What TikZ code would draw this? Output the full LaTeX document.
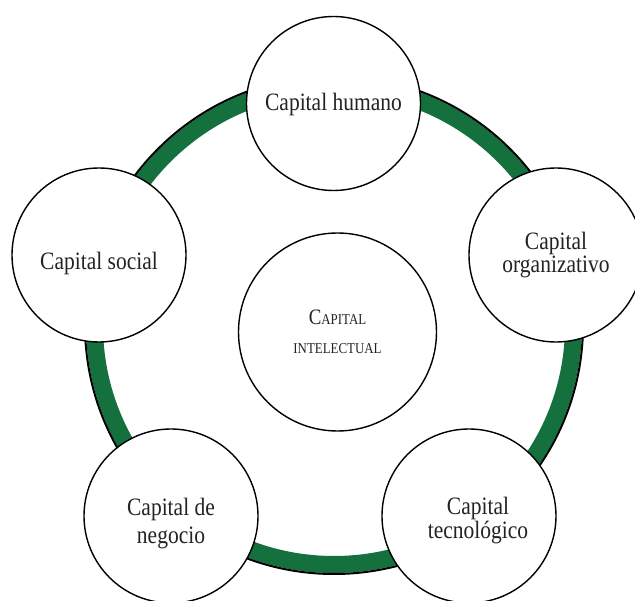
\documentclass[tikz,border=0pt]{standalone}
\usepackage{fontspec}
\setmainfont{Liberation Serif}[FakeStretch=0.86]
\definecolor{ringgreen}{RGB}{20,112,60}
\definecolor{txtgray}{RGB}{35,35,35}

\begin{document}
\begin{tikzpicture}[x=1pt, y=-1pt, every node/.style={circle, draw, line width=1.4pt, fill=white, minimum size=174pt, inner sep=0pt, align=center, text=txtgray, font=\fontsize{25}{20}\selectfont}]
  \useasboundingbox (0,0) rectangle (635,601);
  \clip (0,0) rectangle (635,601);
  \coordinate (ring) at (334,325);
  \draw[ringgreen, line width=17pt] (ring) circle (239.5);
  \draw[line width=2pt] (ring) circle (249);

  \node (hum) at (333.5,103.5) {\rule{0pt}{20pt}Capital humano};
  \node (soc) at (99,255) {\rule{0pt}{35pt}Capital social};
  \node (org) at (556,255) {Capital\\organizativo};
  \node (neg) at (171,516) {\rule{0pt}{33pt}Capital de\\[5pt]negocio};
  \node (tec) at (469,516) {\rule{0pt}{27pt}\hspace*{18pt}Capital\\\hspace*{18pt}tecnológico};
  \node[minimum size=198pt] (int) at (337.5,332) {{\fontsize{22}{22}\selectfont C}{\fontsize{15}{15}\selectfont APITAL}\\[9pt]{\fontsize{15}{15}\selectfont INTELECTUAL}};
\end{tikzpicture}
\end{document}
